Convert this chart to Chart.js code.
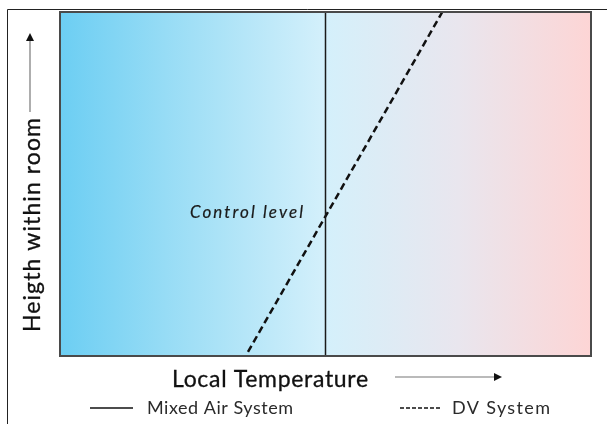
<!DOCTYPE html>
<html>
<head>
<meta charset="utf-8">
<script src="https://cdn.jsdelivr.net/npm/chart.js@4.4.1/dist/chart.umd.min.js"></script>
<style>
  body { margin: 0; background: #fff; }
  canvas { display: block; }
</style>
</head>
<body>
<canvas id="tempChart" width="607" height="424"></canvas>
<script>
// series (x = local temperature, y = height, both 0..100)
const mixedAirX = [50, 50];
const mixedAirY = [0, 100];
const dvX = [35.4, 72];
const dvY = [1.2, 100];

const xTitle = "Local Temperature";
const yTitle = "Heigth within room";
const controlLabel = "Control level";
const legendLabels = ["Mixed Air System", "DV System"];

const toPoints = (xs, ys) => xs.map((x, i) => ({ x, y: ys[i] }));

// draw text stretched (letter spacing) to a given width, like the original
function spacedText(ctx, text, x, y, width, weight = 0) {
    ctx.letterSpacing = "0px";
    const w = ctx.measureText(text).width;
    const sp = (width - w) / (text.length - 1);
    ctx.letterSpacing = sp.toFixed(2) + "px";
    ctx.fillText(text, x, y);
    if (weight) {
        // slightly heavier strokes than the regular face
        ctx.strokeStyle = ctx.fillStyle;
        ctx.lineWidth = weight;
        ctx.strokeText(text, x, y);
    }
    ctx.letterSpacing = "0px";
}

function drawArrow(ctx, x1, y1, x2, y2) {
    const ang = Math.atan2(y2 - y1, x2 - x1);
    ctx.save();
    ctx.strokeStyle = "#777";
    ctx.lineWidth = 1.2;
    ctx.beginPath();
    ctx.moveTo(x1, y1);
    ctx.lineTo(x2 - 6 * Math.cos(ang), y2 - 6 * Math.sin(ang));
    ctx.stroke();
    ctx.fillStyle = "#111";
    ctx.translate(x2, y2);
    ctx.rotate(ang);
    ctx.beginPath();
    ctx.moveTo(0, 0);
    ctx.lineTo(-8, -4);
    ctx.lineTo(-8, 4);
    ctx.closePath();
    ctx.fill();
    ctx.restore();
}

// background gradient + frame + labels
const decorPlugin = {
    id: "decor",
    beforeDatasetsDraw(chart) {
        const { ctx, chartArea: a } = chart;
        const g = ctx.createLinearGradient(a.left, 0, a.right, 0);
        g.addColorStop(0, "#6ccef3");
        g.addColorStop(0.2, "#97dcf5");
        g.addColorStop(0.5, "#d4f0fb");
        g.addColorStop(0.75, "#e9e6ee");
        g.addColorStop(1, "#fdd5d5");
        ctx.save();
        ctx.fillStyle = g;
        ctx.fillRect(a.left, a.top, a.right - a.left, a.bottom - a.top);
        ctx.restore();
    },
    afterDraw(chart) {
        const { ctx, chartArea: a } = chart;
        ctx.save();

        // outer frame
        ctx.strokeStyle = "#222";
        ctx.lineWidth = 1;
        ctx.beginPath();
        ctx.moveTo(7.5, 424);
        ctx.lineTo(7.5, 9.5);
        ctx.lineTo(607, 9.5);
        ctx.stroke();

        // plot border
        ctx.strokeStyle = "#4a4a4a";
        ctx.lineWidth = 2;
        ctx.strokeRect(a.left, a.top, a.right - a.left, a.bottom - a.top);

        // control level label
        ctx.fillStyle = "#1a1a1a";
        ctx.font = "italic 17px Lato";
        ctx.textAlign = "left";
        ctx.textBaseline = "alphabetic";
        spacedText(ctx, controlLabel, 190, 218, 113, 0.2);

        // x title + arrow
        ctx.fillStyle = "#111";
        ctx.font = "23px Lato";
        spacedText(ctx, xTitle, 172, 387, 196, 0.3);
        drawArrow(ctx, 395, 377, 502, 377);

        // y title + arrow
        ctx.save();
        ctx.translate(40, 332);
        ctx.rotate(-Math.PI / 2);
        spacedText(ctx, yTitle, 0, 0, 214, 0.3);
        ctx.restore();
        drawArrow(ctx, 30, 112, 30, 33);

        // legend
        ctx.font = "18px Lato";
        ctx.fillStyle = "#2a2a2a";
        ctx.strokeStyle = "#111";
        ctx.lineWidth = 1.5;
        ctx.beginPath();
        ctx.moveTo(90, 408);
        ctx.lineTo(133, 408);
        ctx.stroke();
        spacedText(ctx, legendLabels[0], 147, 414, 146);
        ctx.setLineDash([4, 2]);
        ctx.beginPath();
        ctx.moveTo(400, 408);
        ctx.lineTo(440, 408);
        ctx.stroke();
        ctx.setLineDash([]);
        spacedText(ctx, legendLabels[1], 452, 414, 98);

        ctx.restore();
    }
};

new Chart(document.getElementById("tempChart"), {
    type: "scatter",
    data: {
        datasets: [
            {
                label: legendLabels[0],
                data: toPoints(mixedAirX, mixedAirY),
                showLine: true,
                borderColor: "#1a1a1a",
                borderWidth: 1.5,
                pointRadius: 0,
            },
            {
                label: legendLabels[1],
                data: toPoints(dvX, dvY),
                showLine: true,
                borderColor: "#111",
                borderWidth: 2.5,
                borderDash: [7, 4],
                pointRadius: 0,
            },
        ],
    },
    options: {
        responsive: false,
        animation: false,
        layout: { padding: { left: 60, top: 12, right: 16, bottom: 68 } },
        scales: {
            x: { type: "linear", min: 0, max: 100, display: false },
            y: { type: "linear", min: 0, max: 100, display: false },
        },
        plugins: {
            legend: { display: false },
            tooltip: { enabled: false },
        },
    },
    plugins: [decorPlugin],
});
</script>
</body>
</html>
